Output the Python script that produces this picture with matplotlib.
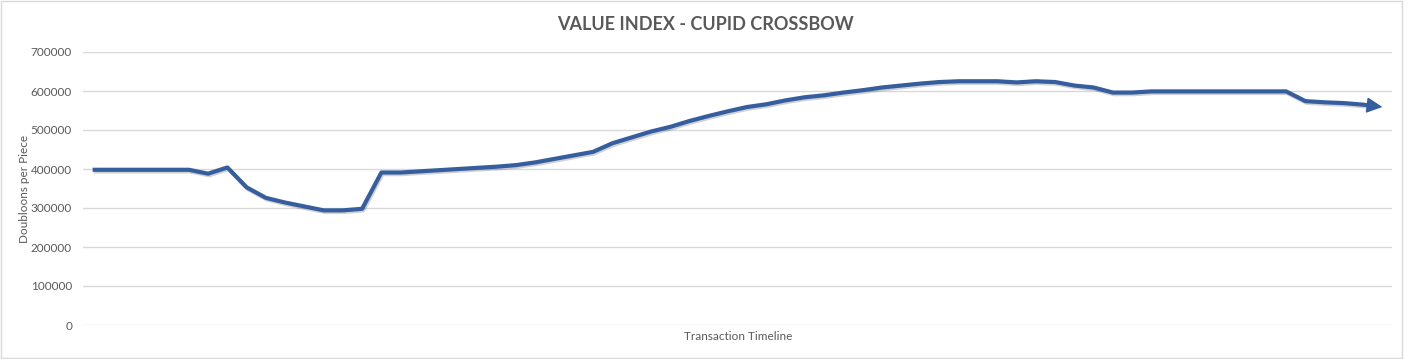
import matplotlib
matplotlib.use("Agg")
import matplotlib.pyplot as plt
import matplotlib.patheffects as pe
from matplotlib.patches import Rectangle, FancyArrowPatch

title = "VALUE INDEX - CUPID CROSSBOW"
x_label = "Transaction Timeline"
y_label = "Doubloons per Piece"
y_ticks = [0, 100000, 200000, 300000, 400000, 500000, 600000, 700000]

values = [
    398000, 398000, 398000, 398000, 398000, 398000, 388000, 404000, 353000, 326000,
    314000, 304000, 294000, 294000, 298000, 391000, 391000, 394000, 397000, 400000,
    403000, 406000, 410000, 417000, 426000, 435000, 444000, 466000, 481000, 496000,
    508000, 523000, 536000, 548000, 559000, 566000, 576000, 584000, 589000, 596000,
    602000, 609000, 614000, 619000, 623000, 625000, 625000, 625000, 622000, 625000,
    623000, 614000, 609000, 596000, 596000, 599000, 599000, 599000, 599000, 599000,
    599000, 599000, 599000, 574000, 571000, 569000, 565000, 559000,
]
positions = list(range(len(values)))

W, H = 1408, 359
fig = plt.figure(figsize=(W / 100, H / 100), dpi=100)
fig.patch.set_facecolor("white")
fig.patches.append(Rectangle((0.5 / W, 1.0 / H), 1401 / W, 357 / H, transform=fig.transFigure,
                             fill=False, edgecolor="#D9D9D9", linewidth=1.0))

ax = fig.add_axes([83 / W, (H - 325) / H, (1392 - 83) / W, (325 - 52) / H])
ax.set_facecolor("white")
ax.set_xlim(-0.5, len(values) - 0.5)
ax.set_ylim(0, 700000)
ax.set_yticks(y_ticks)
ax.set_yticklabels([str(v) for v in y_ticks])
ax.set_xticks([])
for s in ax.spines.values():
    s.set_visible(False)
ax.grid(axis="y", color="#D9D9D9", linewidth=1.0)
ax.set_axisbelow(True)
ax.tick_params(axis="y", length=0, pad=7.9, labelsize=8.5, labelcolor="#595959")
for lab in ax.get_yticklabels():
    lab.set_fontfamily("Lato")

line_color = "#355E9F"
shadow = [pe.SimpleLineShadow(offset=(0.8, -1.2), shadow_color="#000000", alpha=0.18),
          pe.Normal()]
# line stops a little before the final point so the arrow head forms the tip
frac = 0.5
end_x = positions[-2] + frac * (positions[-1] - positions[-2])
end_y = values[-2] + frac * (values[-1] - values[-2])
ax.plot(positions[:-1] + [end_x], values[:-1] + [end_y],
        color=line_color, linewidth=3.0,
        solid_joinstyle="round", solid_capstyle="butt", path_effects=shadow, zorder=3)
arrow = FancyArrowPatch((positions[-2], values[-2]), (positions[-1], values[-1]),
                        arrowstyle="-|>,head_length=0.7,head_width=0.35", color=line_color,
                        linewidth=1.0, mutation_scale=14, shrinkA=0, shrinkB=0, zorder=4)
ax.add_patch(arrow)

fig.text(705 / W, 1 - 24 / H, title, ha="center", va="center", fontsize=13,
         fontweight="bold", color="#595959", family="Lato")
fig.text(738 / W, 1 - 336 / H, x_label, ha="center", va="center", fontsize=8.5,
         color="#595959", family="Lato")
fig.text(25 / W, 1 - 189 / H, y_label, ha="center", va="center", fontsize=8.5,
         color="#595959", family="Lato", rotation=90)

fig.savefig("out.png", dpi=100, facecolor="white")
